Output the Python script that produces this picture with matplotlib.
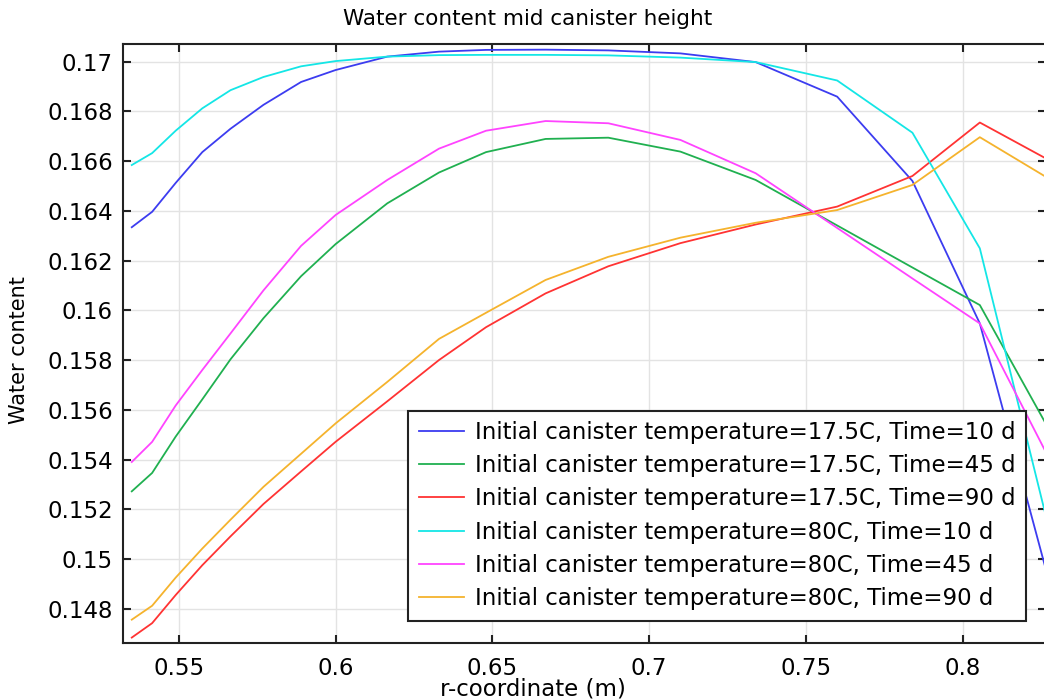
import matplotlib
matplotlib.use('Agg')
import matplotlib.pyplot as plt
from matplotlib.ticker import FuncFormatter
import numpy as np

# r-coordinate nodes (m)
r = [0.535, 0.5415, 0.549, 0.5575, 0.5665, 0.577, 0.589, 0.6, 0.6165, 0.633,
     0.648, 0.667, 0.687, 0.710, 0.734, 0.760, 0.784, 0.8055, 0.8265]

# water content
t175_10 = [0.16334, 0.16396, 0.16512, 0.16636, 0.16730, 0.16826, 0.16918, 0.16966, 0.17020, 0.17040,
           0.17047, 0.17048, 0.17045, 0.17033, 0.16998, 0.16859, 0.16520, 0.15947, 0.14961]
t175_45 = [0.15272, 0.15346, 0.15492, 0.15642, 0.15803, 0.15968, 0.16137, 0.16266, 0.16430, 0.16554,
           0.16636, 0.16689, 0.16694, 0.16638, 0.16524, 0.16341, 0.16172, 0.16021, 0.15545]
t175_90 = [0.14684, 0.14742, 0.14855, 0.14975, 0.15091, 0.15221, 0.15352, 0.15471, 0.15634, 0.15800,
           0.15932, 0.16068, 0.16177, 0.16270, 0.16345, 0.16417, 0.16540, 0.16755, 0.16611]
t80_10 = [0.16584, 0.16632, 0.16722, 0.16812, 0.16885, 0.16938, 0.16981, 0.17002, 0.17020, 0.17026,
          0.17027, 0.17027, 0.17025, 0.17016, 0.16998, 0.16924, 0.16714, 0.16249, 0.15176]
t80_45 = [0.15390, 0.15471, 0.15617, 0.15760, 0.15907, 0.16080, 0.16259, 0.16383, 0.16524, 0.16650,
          0.16722, 0.16761, 0.16752, 0.16685, 0.16551, 0.16331, 0.16128, 0.15947, 0.15431]
t80_90 = [0.14756, 0.14812, 0.14925, 0.15042, 0.15158, 0.15290, 0.15423, 0.15545, 0.15712, 0.15885,
          0.15990, 0.16122, 0.16215, 0.16292, 0.16352, 0.16403, 0.16504, 0.16696, 0.16537]

labels = ['Initial canister temperature=17.5C, Time=10 d',
          'Initial canister temperature=17.5C, Time=45 d',
          'Initial canister temperature=17.5C, Time=90 d',
          'Initial canister temperature=80C, Time=10 d',
          'Initial canister temperature=80C, Time=45 d',
          'Initial canister temperature=80C, Time=90 d']
series = [t175_10, t175_45, t175_90, t80_10, t80_45, t80_90]
colors = ['#3c3cf0', '#20b050', '#ff3333', '#14e6e6', '#ff44ff', '#f5b32d']

fig = plt.figure(figsize=(10.44, 7.0), dpi=100)
ax = fig.add_axes([0.1175, 0.081, 0.8844, 0.8566])

for vals, lab, col in zip(series, labels, colors):
    ax.plot(r, vals, color=col, lw=1.3, label=lab)

ax.set_xlim(0.5321, 0.8266)
ax.set_ylim(0.14661, 0.17072)
ax.set_xticks(np.arange(0.55, 0.801, 0.05))
ax.set_yticks(np.arange(0.148, 0.1701, 0.002))
fmt = FuncFormatter(lambda v, p: f'{v:g}')
ax.xaxis.set_major_formatter(fmt)
ax.yaxis.set_major_formatter(fmt)

ax.grid(True, color='#e3e3e3', lw=1)
ax.set_axisbelow(True)
ax.tick_params(direction='in', length=6, width=1.5, top=True, right=True,
               labelsize=16.5, color='#222222')
ax.tick_params(axis='y', pad=7)
ax.tick_params(axis='x', pad=10)
for s in ax.spines.values():
    s.set_linewidth(1.5)
    s.set_color('#222222')

fig.text(0.505, 0.973, 'Water content mid canister height', ha='center', va='center', fontsize=15.5)
fig.text(0.51, 0.015, 'r-coordinate (m)', ha='center', va='center', fontsize=16.5)
fig.text(0.018, 0.5, 'Water content', ha='center', va='center', rotation=90, fontsize=15)

leg = ax.legend(loc='lower right', bbox_to_anchor=(0.978, 0.0377), fontsize=16.5,
                frameon=True, fancybox=False, framealpha=1, edgecolor='#222222',
                borderpad=0.45, labelspacing=0.45, handlelength=2.0, handletextpad=0.45,
                borderaxespad=0)
leg.get_frame().set_linewidth(1.5)

fig.savefig('out.png', dpi=100)
